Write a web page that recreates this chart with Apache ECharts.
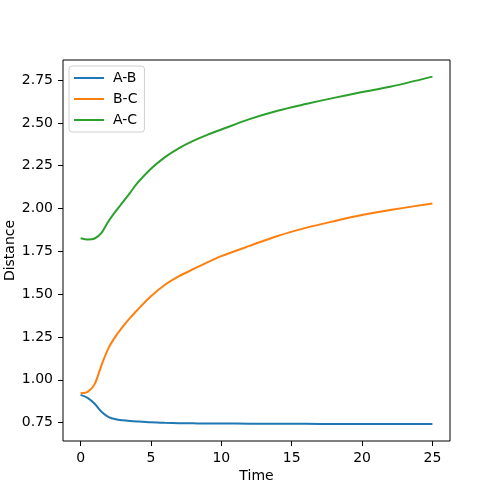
<!DOCTYPE html>
<html>
<head>
<meta charset="utf-8">
<script src="https://cdn.jsdelivr.net/npm/echarts@6/dist/echarts.min.js"></script>
<style>
  html, body { margin: 0; padding: 0; background: #fff; }
  #main { width: 500px; height: 496px; }
</style>
</head>
<body>
<div id="main"></div>
<script>
// time samples and distances
var times = [0, 0.5, 1, 1.5, 2, 2.5, 3, 3.5, 4, 5, 6, 7, 8, 9, 10, 12, 14, 16, 18, 20, 22, 25];
var distAB = [0.912, 0.895, 0.860, 0.812, 0.783, 0.770, 0.764, 0.760, 0.757, 0.752, 0.749, 0.747, 0.746, 0.745, 0.745, 0.744, 0.743, 0.743, 0.742, 0.742, 0.742, 0.742];
var distBC = [0.922, 0.930, 0.975, 1.089, 1.188, 1.255, 1.310, 1.360, 1.405, 1.488, 1.555, 1.605, 1.646, 1.686, 1.722, 1.782, 1.840, 1.887, 1.926, 1.962, 1.991, 2.030];
var distAC = [1.826, 1.819, 1.825, 1.860, 1.928, 1.985, 2.037, 2.090, 2.145, 2.232, 2.300, 2.353, 2.395, 2.430, 2.461, 2.522, 2.571, 2.610, 2.646, 2.680, 2.711, 2.770];
var seriesNames = ['A-B', 'B-C', 'A-C'];
var xTicks = [0, 5, 10, 15, 20, 25];
var yTicks = [0.75, 1.00, 1.25, 1.50, 1.75, 2.00, 2.25, 2.50, 2.75];

var colors = ['#1f77b4', '#ff7f0e', '#2ca02c'];
var font = 'DejaVu Sans';

function pairs(ys) {
  return times.map(function (t, i) { return [t, ys[i]]; });
}

var chart = echarts.init(document.getElementById('main'));
chart.setOption({
  animation: false,
  color: colors,
  textStyle: { fontFamily: font },
  grid: {
    left: 63, right: 50, top: 60, bottom: 55,
    outerBoundsMode: 'none',
    containLabel: false,
    show: true, borderColor: '#000', borderWidth: 1, backgroundColor: 'transparent'
  },
  legend: {
    orient: 'vertical',
    left: 69, top: 66,
    padding: [5, 7, 5, 5],
    itemWidth: 30, itemHeight: 2,
    itemGap: 7,
    icon: 'rect',
    borderColor: '#d0d0d0', borderWidth: 1, borderRadius: 3,
    backgroundColor: 'rgba(255,255,255,0.8)',
    textStyle: { fontFamily: font, fontSize: 14, color: '#000', lineHeight: 14, padding: [0, 0, 0, 4] },
    data: seriesNames
  },
  xAxis: {
    type: 'value',
    min: -1.25, max: 26.25,
    name: 'Time', nameLocation: 'middle', nameGap: 28,
    nameMoveOverlap: false,
    nameTextStyle: { fontFamily: font, fontSize: 14, color: '#000' },
    axisLine: { show: false, onZero: false },
    axisTick: { show: true, length: 5, lineStyle: { color: '#000' }, customValues: xTicks },
    axisLabel: { fontFamily: font, fontSize: 14, color: '#000', margin: 10, customValues: xTicks },
    splitLine: { show: false }
  },
  yAxis: {
    type: 'value',
    min: 0.643, max: 2.867,
    name: 'Distance', nameLocation: 'middle', nameGap: 46,
    nameMoveOverlap: false,
    nameTextStyle: { fontFamily: font, fontSize: 14, color: '#000' },
    axisLine: { show: false, onZero: false },
    axisTick: { show: true, length: 5, lineStyle: { color: '#000' }, customValues: yTicks },
    axisLabel: {
      fontFamily: font, fontSize: 14, color: '#000', margin: 10, customValues: yTicks,
      formatter: function (v) { return v.toFixed(2); }
    },
    splitLine: { show: false }
  },
  series: [distAB, distBC, distAC].map(function (ys, i) {
    return {
      name: seriesNames[i],
      type: 'line',
      data: pairs(ys),
      smooth: 0.3,
      showSymbol: false,
      lineStyle: { width: 2, color: colors[i] },
      itemStyle: { color: colors[i] }
    };
  })
});
</script>
</body>
</html>
